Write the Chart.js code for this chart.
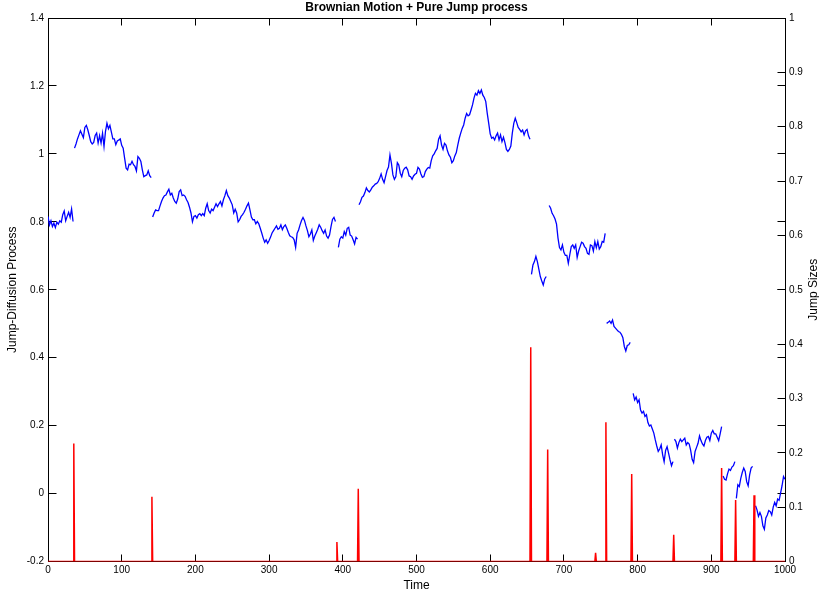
<!DOCTYPE html>
<html>
<head>
<meta charset="utf-8">
<title>Brownian Motion + Pure Jump process</title>
<script src="https://cdn.jsdelivr.net/npm/chart.js@4.4.1/dist/chart.umd.min.js"></script>
<style>
  html, body { margin: 0; padding: 0; background: #fff; }
  #wrap { width: 819px; height: 597px; }
</style>
</head>
<body>
<div id="wrap"><canvas id="chart" width="819" height="597"></canvas></div>
<script>
// Jump-diffusion path: one array per continuous stretch between two jumps,
// sampled every 2 time units, each stretch starting at the time in pathStarts.
const sampleStep = 2;
const pathStarts = [0, 36, 142, 394, 422, 656, 680, 758, 794, 850, 916, 934, 960];

const path01 = [0.816,0.791,0.803,0.786,0.796,0.783,0.799,0.793,0.803,0.799,0.821,0.832,0.803,0.816,0.828,0.813,0.838,0.801];
const path02 = [1.017,1.029,1.044,1.056,1.068,1.058,1.048,1.078,1.084,1.071,1.054,1.036,1.029,1.034,1.054,1.061,1.032,1.054,1.032,1.061,
  1.022,1.066,1.090,1.074,1.084,1.064,1.044,1.044,1.027,1.038,1.041,1.044,1.025,1.017,0.987,0.958,0.953,0.970,0.968,0.978,
  0.968,0.963,0.950,0.992,0.987,0.978,0.953,0.933,0.936,0.938,0.950,0.936,0.930];
const path03 = [0.814,0.826,0.835,0.833,0.833,0.847,0.860,0.870,0.877,0.879,0.888,0.896,0.879,0.884,0.870,0.860,0.855,0.867,0.889,0.894,
  0.877,0.879,0.875,0.865,0.857,0.843,0.826,0.800,0.816,0.818,0.811,0.821,0.824,0.818,0.824,0.818,0.840,0.853,0.833,0.826,
  0.837,0.833,0.843,0.853,0.845,0.853,0.860,0.847,0.865,0.877,0.892,0.877,0.870,0.860,0.850,0.826,0.837,0.826,0.800,0.806,
  0.816,0.821,0.828,0.837,0.847,0.855,0.835,0.814,0.806,0.806,0.794,0.801,0.794,0.781,0.767,0.752,0.740,0.747,0.737,0.745,
  0.755,0.767,0.774,0.781,0.788,0.778,0.781,0.791,0.777,0.786,0.791,0.781,0.769,0.759,0.756,0.754,0.747,0.725,0.766,0.776,
  0.791,0.804,0.813,0.804,0.788,0.774,0.756,0.764,0.776,0.745,0.758,0.768,0.778,0.791,0.784,0.774,0.766,0.776,0.758,0.752,
  0.761,0.786,0.807,0.813,0.801];
const path04 = [0.725,0.749,0.756,0.752,0.771,0.761,0.781,0.784,0.761,0.758,0.747,0.735,0.754,0.749];
const path05 = [0.850,0.859,0.872,0.876,0.886,0.900,0.892,0.888,0.894,0.902,0.906,0.911,0.913,0.918,0.928,0.941,0.925,0.915,0.933,0.951,
  0.961,0.997,0.972,0.938,0.925,0.933,0.974,0.967,0.943,0.933,0.951,0.958,0.961,0.953,0.935,0.933,0.925,0.935,0.940,0.943,
  0.960,0.955,0.941,0.931,0.933,0.948,0.955,0.960,0.958,0.980,0.994,1.000,1.009,1.016,1.043,1.053,1.026,1.013,1.031,1.026,
  1.009,0.997,0.990,0.974,0.980,0.994,1.004,1.026,1.046,1.061,1.075,1.085,1.105,1.119,1.112,1.115,1.129,1.144,1.164,1.178,
  1.173,1.186,1.178,1.188,1.173,1.166,1.154,1.119,1.090,1.059,1.046,1.049,1.041,1.053,1.061,1.041,1.056,1.036,1.049,1.033,
  1.013,1.007,1.013,1.023,1.061,1.090,1.105,1.092,1.078,1.072,1.065,1.070,1.056,1.068,1.072,1.053,1.043];
const path06 = [0.645,0.673,0.683,0.698,0.683,0.661,0.639,0.626,0.614,0.632,0.639];
const path07 = [0.848,0.840,0.825,0.818,0.808,0.793,0.752,0.724,0.717,0.732,0.710,0.701,0.701,0.678,0.703,0.727,0.732,0.722,0.732,0.695,
  0.714,0.727,0.740,0.737,0.727,0.722,0.707,0.704,0.732,0.730,0.714,0.742,0.724,0.742,0.720,0.727,0.742,0.740,0.766];
const path08 = [0.501,0.504,0.508,0.501,0.511,0.492,0.487,0.482,0.477,0.475,0.469,0.459,0.433,0.420,0.436,0.438,0.445];
const path09 = [0.295,0.276,0.284,0.268,0.276,0.246,0.237,0.242,0.227,0.232,0.209,0.199,0.202,0.190,0.178,0.158,0.140,0.124,0.131,0.143,
  0.114,0.094,0.127,0.138,0.119,0.099,0.082,0.094];
const path10 = [0.160,0.153,0.134,0.150,0.160,0.153,0.158,0.163,0.143,0.150,0.146,0.127,0.101,0.091,0.124,0.136,0.148,0.170,0.156,0.146,
  0.140,0.156,0.166,0.168,0.156,0.178,0.186,0.176,0.176,0.166,0.156,0.176,0.197];
const path11 = [0.052,0.042,0.040,0.058,0.072,0.068,0.078,0.082,0.094];
const path12 = [-0.014,0.026,0.021,0.045,0.062,0.075,0.065,0.035,0.023,0.055,0.075,0.080];
const path13 = [-0.036,-0.048,-0.067,-0.056,-0.067,-0.095,-0.105,-0.072,-0.063,-0.050,-0.053,-0.063,-0.040,-0.026,-0.036,-0.016,-0.020,0.001,0.023,0.050,0.042];

const pathSegments = [path01, path02, path03, path04, path05, path06, path07, path08, path09, path10, path11, path12, path13];

// Jump arrival times and their sizes (right axis)
const jumpTimes = [35, 141, 392, 421, 655, 678, 743, 757, 792, 849, 914, 933, 958];
const jumpSizes = [0.217, 0.119, 0.036, 0.134, 0.394, 0.206, 0.016, 0.256, 0.161, 0.049, 0.172, 0.113, 0.122];

// Axis ticks
const timeTicks = [0, 100, 200, 300, 400, 500, 600, 700, 800, 900, 1000];
const diffusionTicks = [-0.2, 0, 0.2, 0.4, 0.6, 0.8, 1, 1.2, 1.4];
const jumpTicks = [0, 0.1, 0.2, 0.3, 0.4, 0.5, 0.6, 0.7, 0.8, 0.9, 1];

// Path points, with a null between stretches so the line breaks at each jump
const pathPoints = [];
pathSegments.forEach((seg, i) => {
  if (i > 0) pathPoints.push({ x: pathStarts[i] - 1, y: null });
  seg.forEach((v, k) => pathPoints.push({ x: pathStarts[i] + k * sampleStep, y: v }));
});

// Jump sizes as thin spikes rising from zero
const jumpPoints = [{ x: 0, y: 0 }];
jumpTimes.forEach((t, i) => {
  jumpPoints.push({ x: t - 1, y: 0 }, { x: t, y: jumpSizes[i] }, { x: t + 1, y: 0 });
});
jumpPoints.push({ x: 1000, y: 0 });

const FONT = '"Liberation Sans", Arial, Helvetica, sans-serif';
const INK = '#000000';

const alignPx = p => Math.round(p - 0.5) + 0.5;

// Inward tick marks on all four sides plus the top edge of the box
const boxTicks = {
  id: 'boxTicks',
  beforeDatasetsDraw(chart) {
    const { ctx, chartArea: a, scales } = chart;
    const xLen = 7, yLen = 8;
    ctx.save();
    ctx.strokeStyle = INK;
    ctx.lineWidth = 1;
    ctx.beginPath();
    const top = alignPx(a.top), bottom = alignPx(a.bottom);
    const left = alignPx(a.left), right = alignPx(a.right);
    ctx.moveTo(left, top); ctx.lineTo(right, top);
    timeTicks.forEach(v => {
      const px = alignPx(scales.x.getPixelForValue(v));
      ctx.moveTo(px, bottom); ctx.lineTo(px, bottom - xLen);
      ctx.moveTo(px, top); ctx.lineTo(px, top + xLen);
    });
    diffusionTicks.forEach(v => {
      const py = alignPx(scales.y.getPixelForValue(v));
      ctx.moveTo(left, py); ctx.lineTo(left + yLen, py);
      ctx.moveTo(right, py); ctx.lineTo(right - yLen, py);
    });
    jumpTicks.forEach(v => {
      const py = alignPx(scales.y2.getPixelForValue(v));
      ctx.moveTo(right, py); ctx.lineTo(right - yLen, py);
    });
    ctx.stroke();
    ctx.restore();
  },
  afterDraw(chart) {
    // right-hand axis title, reading upwards like the left one
    const { ctx, chartArea: a, scales } = chart;
    ctx.save();
    ctx.translate(scales.y2.right - 5.3, (a.top + a.bottom) / 2);
    ctx.rotate(-Math.PI / 2);
    ctx.font = '12px ' + FONT;
    ctx.fillStyle = INK;
    ctx.textAlign = 'center';
    ctx.textBaseline = 'middle';
    ctx.fillText('Jump Sizes', 0, 0);
    ctx.restore();
  }
};

new Chart(document.getElementById('chart'), {
  type: 'line',
  data: {
    datasets: [
      {
        label: 'Jump Sizes',
        data: jumpPoints,
        yAxisID: 'y2',
        borderColor: '#ff0000',
        borderWidth: 1.5,
        pointRadius: 0,
        tension: 0,
        order: 0
      },
      {
        label: 'Jump-Diffusion Process',
        data: pathPoints,
        yAxisID: 'y',
        borderColor: '#0000ff',
        borderWidth: 1.3,
        pointRadius: 0,
        tension: 0,
        spanGaps: false,
        order: 1
      }
    ]
  },
  options: {
    responsive: false,
    devicePixelRatio: 1,
    animation: false,
    events: [],
    layout: { padding: 0 },
    plugins: {
      legend: { display: false },
      tooltip: { enabled: false },
      title: {
        display: true,
        text: 'Brownian Motion + Pure Jump process',
        fullSize: false,
        color: INK,
        font: { family: FONT, size: 12, weight: 'bold', lineHeight: 1.2 },
        padding: { top: 0.8, bottom: 2.8 }
      }
    },
    scales: {
      x: {
        type: 'linear',
        position: 'bottom',
        min: 0,
        max: 1000,
        afterBuildTicks: s => { s.ticks = timeTicks.map(v => ({ value: v })); },
        afterFit: s => { s.height = 35.5; },
        grid: { display: false, drawTicks: false },
        border: { display: true, color: INK, width: 1 },
        ticks: {
          autoSkip: false, maxRotation: 0, padding: 3,
          color: INK, font: { family: FONT, size: 10 },
          callback: v => String(v)
        },
        title: {
          display: true, text: 'Time', color: INK,
          font: { family: FONT, size: 12 }, padding: { top: 0, bottom: 3.8 }
        }
      },
      y: {
        type: 'linear',
        position: 'left',
        min: -0.2,
        max: 1.4,
        afterBuildTicks: s => { s.ticks = diffusionTicks.map(v => ({ value: v })); },
        afterFit: s => { s.width = 48; },
        grid: { display: false, drawTicks: false },
        border: { display: true, color: INK, width: 1 },
        ticks: {
          autoSkip: false, padding: 4,
          color: INK, font: { family: FONT, size: 10 },
          callback: v => String(v)
        },
        title: {
          display: true, text: 'Jump-Diffusion Process', color: INK,
          font: { family: FONT, size: 12 }, padding: { top: 5.3, bottom: 0 }
        }
      },
      y2: {
        type: 'linear',
        position: 'right',
        min: 0,
        max: 1,
        afterBuildTicks: s => { s.ticks = jumpTicks.map(v => ({ value: v })); },
        afterFit: s => { s.width = 34; },
        grid: { display: false, drawTicks: false },
        border: { display: true, color: INK, width: 1 },
        ticks: {
          autoSkip: false, padding: 4,
          color: INK, font: { family: FONT, size: 10 },
          callback: v => String(v)
        },
        title: { display: false }
      }
    }
  },
  plugins: [boxTicks]
});
</script>
</body>
</html>
